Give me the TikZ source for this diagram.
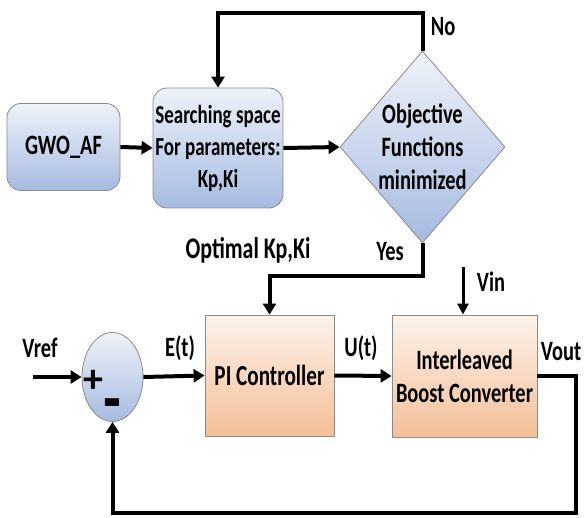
\documentclass[tikz,border=0pt]{standalone}
\usepackage{fontspec}
\setmainfont{Carlito}[FakeStretch=0.73]
\newfontfamily\signfont{Carlito}
\usetikzlibrary{arrows.meta,shapes.geometric}
\definecolor{bluetop}{HTML}{EEF2F9}
\definecolor{bluebot}{HTML}{A6BBE1}
\definecolor{peachtop}{HTML}{FDF2EA}
\definecolor{peachbot}{HTML}{F4BF98}
\definecolor{edgegray}{HTML}{8A8A8A}
\begin{document}
\begin{tikzpicture}[x=1pt,y=-1pt,
  txt/.style={font=\fontsize{28}{33}\selectfont\bfseries, align=center},
  lbl/.style={font=\fontsize{28}{30}\selectfont\bfseries, inner sep=0pt},
  sign/.style={font=\signfont\fontsize{40}{40}\selectfont\bfseries, inner sep=0pt},
  bluebox/.style={draw=edgegray, line width=0.8pt, top color=bluetop, bottom color=bluebot, rounded corners=14pt, inner sep=0pt, txt},
  peachbox/.style={draw=edgegray, line width=0.8pt, top color=peachtop, bottom color=peachbot, inner sep=0pt, txt},
  arr/.style={line width=4pt, -{Triangle[length=11pt,width=13pt]}},
  arrthin/.style={line width=3pt, -{Triangle[length=11pt,width=11pt]}}
]
\useasboundingbox (0,0) rectangle (585,518);

\node[bluebox, minimum width=113pt, minimum height=87pt] (gwo) at (63.5,147) {GWO\_AF};
\node[bluebox, minimum width=130pt, minimum height=120pt, font=\fontsize{26}{32}\selectfont\bfseries] (search) at (218,148) {Searching space\\For parameters:\\Kp,Ki};
\node[diamond, draw=edgegray, line width=0.8pt, top color=bluetop, bottom color=bluebot, minimum width=165pt, minimum height=192pt, inner sep=0pt] (dia) at (422.5,147) {};
\node[txt] (diatext) at (dia.center) {Objective\\Functions\\minimized};

\node[ellipse, draw=edgegray, line width=0.8pt, top color=bluetop, bottom color=bluebot, minimum width=61pt, minimum height=89pt, inner sep=0pt] (sum) at (112.5,377) {};
\node[sign] (plus) at (93,381) {+};
\node[sign] (minus) at (112,413) {\scalebox{1}[2.2]{–}};

\node[peachbox, minimum width=129pt, minimum height=121pt, font=\fontsize{29}{33}\selectfont\bfseries] (pi) at (269.5,375.5) {PI Controller};
\node[peachbox, minimum width=145pt, minimum height=122pt] (ibc) at (464.5,376) {Interleaved\\Boost Converter};

\coordinate (noy) at (0,13);
\coordinate (yesy) at (0,276);
\coordinate (fby) at (0,513);
\coordinate (fbx) at (576,0);
\coordinate (vin) at (463,267);
\coordinate (vref) at (33,377);

\draw[arr] (gwo.east) -- (search.west);
\draw[arr] (search.east) -- (dia.west);
\draw[arr] (dia.north) |- (search.north |- noy) -- (search.north);
\draw[arr] (dia.south) |- (pi.north |- yesy) -- (pi.north);
\draw[arrthin] (vin) -- (vin |- ibc.north);
\draw[arr] (vref) -- (sum.west);
\draw[arr] (sum.east) -- (pi.west);
\draw[arr] (pi.east) -- (ibc.west);
\draw[arr] (ibc.east) -| (fbx |- fby) -| (sum.south);

\node[lbl] (no) at (443,27) {No};
\node[lbl] (yes) at (390,252) {Yes};
\node[lbl, font=\fontsize{30}{30}\selectfont\bfseries] (opt) at (248,250) {Optimal Kp,Ki};
\node[lbl] (vinl) at (491,282) {Vin};
\node[lbl] (vrefl) at (40,348) {Vref};
\node[lbl] (et) at (180,348) {E(t)};
\node[lbl] (ut) at (361,348) {U(t)};
\node[lbl] (vout) at (561,352) {Vout};
\end{tikzpicture}
\end{document}
